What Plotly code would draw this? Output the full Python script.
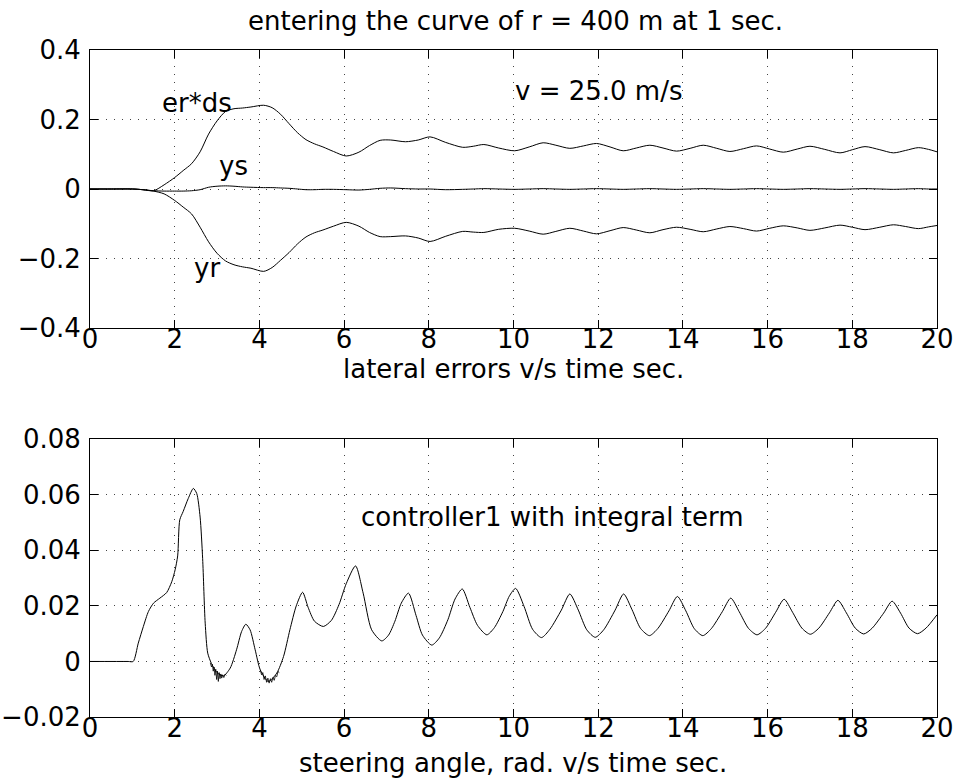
import plotly.graph_objects as go

# ---------------- data ----------------
t_top = [0, 0.5, 1.0, 1.25, 1.5, 1.75, 2.0, 2.2, 2.4, 2.6, 2.8, 3.0, 3.2, 3.4, 3.6, 3.8,
         4.1, 4.3, 4.5, 4.7, 4.9, 5.1, 5.3, 5.5, 5.75, 6.05, 6.35, 6.6, 6.85, 7.1, 7.45,
         7.75, 8.03, 8.4, 8.8, 9.05, 9.3, 9.65, 10.03, 10.37, 10.7, 11.0, 11.33, 11.65,
         11.96, 12.28, 12.59, 12.9, 13.22, 13.53, 13.85, 14.17, 14.48, 14.8, 15.11, 15.43,
         15.74, 16.05, 16.37, 16.7, 17.0, 17.35, 17.71, 18.0, 18.3, 18.65, 18.97, 19.26,
         19.56, 19.8, 20.0]

er_ds = [0, 0, 0, -0.002, -0.005, 0.012, 0.033, 0.053, 0.073, 0.107, 0.158, 0.196, 0.223,
         0.231, 0.233, 0.236, 0.241, 0.234, 0.215, 0.188, 0.162, 0.142, 0.130, 0.121, 0.108,
         0.095, 0.106, 0.125, 0.140, 0.141, 0.136, 0.141, 0.150, 0.134, 0.120, 0.123, 0.128,
         0.118, 0.110, 0.121, 0.133, 0.126, 0.117, 0.124, 0.131, 0.121, 0.110, 0.118, 0.126,
         0.118, 0.109, 0.117, 0.126, 0.117, 0.108, 0.116, 0.124, 0.115, 0.106, 0.115, 0.123,
         0.114, 0.104, 0.113, 0.122, 0.113, 0.104, 0.111, 0.119, 0.114, 0.107]

ys = [0, 0, 0, -0.002, -0.005, -0.006, -0.006, -0.006, -0.005, -0.002, 0.005, 0.008, 0.009,
      0.008, 0.006, 0.005, 0.004, 0.004, 0.003, 0.002, 0.000, -0.002, -0.002, -0.001, -0.001,
      -0.002, -0.003, -0.001, 0.002, 0.003, 0.001, 0.000, 0.000, -0.002, -0.001, 0.000, 0.001,
      0.000, -0.001, 0.000, 0.001, 0.000, -0.001, 0.000, 0.001, 0.000, -0.001, 0.000, 0.001,
      0.000, -0.001, 0.000, 0.001, 0.000, -0.001, 0.000, 0.001, 0.000, -0.001, 0.000, 0.001,
      0.000, -0.001, 0.000, 0.001, 0.000, -0.001, 0.000, 0.001, 0.000, 0.000]

yr = [0, 0, 0, -0.002, -0.006, -0.014, -0.033, -0.052, -0.072, -0.110, -0.152, -0.185,
      -0.207, -0.218, -0.224, -0.228, -0.237, -0.226, -0.205, -0.183, -0.158, -0.138, -0.126,
      -0.118, -0.107, -0.096, -0.107, -0.125, -0.137, -0.137, -0.135, -0.141, -0.151, -0.136,
      -0.122, -0.124, -0.125, -0.116, -0.113, -0.121, -0.130, -0.122, -0.113, -0.121, -0.129,
      -0.120, -0.111, -0.118, -0.126, -0.117, -0.110, -0.116, -0.123, -0.115, -0.108, -0.114,
      -0.121, -0.113, -0.106, -0.112, -0.119, -0.112, -0.104, -0.110, -0.117, -0.110, -0.103,
      -0.108, -0.114, -0.109, -0.105]

t_steer = [0, 0.9, 1.02, 1.14, 1.26, 1.38, 1.5, 1.65, 1.81, 1.93, 2.01, 2.07, 2.12, 2.2,
           2.32, 2.44, 2.52, 2.6, 2.66, 2.72, 2.78, 2.87, 3.0, 3.15, 3.31, 3.46, 3.58, 3.68,
           3.78, 3.9, 4.02, 4.21, 4.41, 4.57, 4.72, 4.87, 5.02, 5.15, 5.3, 5.51, 5.7, 5.88,
           6.05, 6.27, 6.45, 6.65, 6.89, 7.05, 7.2, 7.35, 7.52, 7.7, 7.85, 8.07, 8.25, 8.45,
           8.62, 8.79, 8.97, 9.15, 9.37, 9.55, 9.75, 9.9, 10.05,
           10.25, 10.45, 10.66, 10.86, 11.13, 11.33, 11.53, 11.73, 11.93, 12.13, 12.4, 12.6,
           12.8, 13.0, 13.21, 13.41, 13.67, 13.87, 14.07, 14.27, 14.47, 14.67, 14.93, 15.13,
           15.33, 15.55, 15.75, 15.95, 16.19, 16.39, 16.59, 16.81, 17.01, 17.21, 17.46, 17.66,
           17.86, 18.07, 18.27, 18.47, 18.74, 18.94, 19.14, 19.34, 19.54, 19.74, 20.0]

steer = [0, 0, 0, 0.0066, 0.0126, 0.018, 0.021, 0.0228, 0.0248, 0.0287, 0.033, 0.038,
         0.051, 0.054, 0.0587, 0.0623, 0.0605, 0.052, 0.037, 0.0138, 0.003, -0.0008, -0.004,
         -0.0052, -0.0024, 0.0042, 0.0108, 0.0134, 0.0114, 0.0042, -0.003, -0.0072, -0.0042,
         0.0018, 0.0114, 0.020, 0.0249, 0.0195, 0.0145, 0.0126, 0.0148, 0.0205,
         0.028, 0.0344, 0.0246, 0.0114, 0.0074, 0.0095, 0.0145, 0.021, 0.0246, 0.0165, 0.0095,
         0.0059, 0.0085, 0.015, 0.0225, 0.0261, 0.0195, 0.013, 0.0096, 0.0122, 0.018, 0.0235,
         0.0263,
         0.0198, 0.0116, 0.0086, 0.0116, 0.0185, 0.0243, 0.0185, 0.0114, 0.0087, 0.0114,
         0.0185, 0.0243, 0.0186, 0.0119, 0.0093, 0.0119, 0.0182, 0.0234, 0.0182, 0.0118,
         0.0093, 0.0118, 0.0179, 0.0228, 0.0179, 0.0119, 0.0096, 0.0119, 0.0177, 0.0224,
         0.0177, 0.012, 0.0098, 0.012, 0.0175, 0.022, 0.0175, 0.012, 0.0099, 0.012, 0.0174,
         0.0217, 0.0174, 0.012, 0.0100, 0.012, 0.0168]

# high-frequency jitter visible in the two early troughs
t_jit1 = [2.84, 2.87, 2.89, 2.91, 2.93, 2.95, 2.97, 2.99, 3.01, 3.03, 3.05, 3.07, 3.09,
          3.11, 3.13, 3.16, 3.19, 3.22]
jit1 = [-0.0005, -0.002, -0.001, -0.0035, -0.002, -0.005, -0.0028, -0.0065, -0.0035,
        -0.0072, -0.004, -0.0062, -0.0045, -0.006, -0.0048, -0.0058, -0.0046, -0.005]
t_jit2 = [4.02, 4.05, 4.08, 4.11, 4.14, 4.17, 4.2, 4.23, 4.26, 4.29, 4.32, 4.35, 4.38,
          4.41, 4.44, 4.47]
jit2 = [-0.003, -0.0048, -0.004, -0.0065, -0.0052, -0.0075, -0.006, -0.0078, -0.0062,
        -0.0075, -0.0058, -0.0068, -0.005, -0.0055, -0.0036, -0.004]

x_ticks = [0, 2, 4, 6, 8, 10, 12, 14, 16, 18, 20]
y1_ticks = [-0.4, -0.2, 0, 0.2, 0.4]
y1_text = ["\u22120.4", "\u22120.2", "0", "0.2", "0.4"]
y2_ticks = [-0.02, 0, 0.02, 0.04, 0.06, 0.08]
y2_text = ["\u22120.02", "0", "0.02", "0.04", "0.06", "0.08"]

# ---------------- figure ----------------
W, H = 961, 779
FONT = "DejaVu Sans"
FS = 26

fig = go.Figure()
fig.add_trace(go.Scatter(x=t_top, y=er_ds, mode="lines", line=dict(color="black", width=1, shape="spline", smoothing=0.8), xaxis="x", yaxis="y"))
fig.add_trace(go.Scatter(x=t_top, y=ys, mode="lines", line=dict(color="black", width=1, shape="spline", smoothing=0.8), xaxis="x", yaxis="y"))
fig.add_trace(go.Scatter(x=t_top, y=yr, mode="lines", line=dict(color="black", width=1, shape="spline", smoothing=0.8), xaxis="x", yaxis="y"))
fig.add_trace(go.Scatter(x=t_steer, y=steer, mode="lines", line=dict(color="black", width=1, shape="spline", smoothing=0.7), xaxis="x2", yaxis="y2"))
fig.add_trace(go.Scatter(x=t_jit1, y=jit1, mode="lines", line=dict(color="black", width=0.8), xaxis="x2", yaxis="y2"))
fig.add_trace(go.Scatter(x=t_jit2, y=jit2, mode="lines", line=dict(color="black", width=0.8), xaxis="x2", yaxis="y2"))

def px_x(p):
    return p / W

def px_y(p):
    return 1 - p / H

common = dict(showline=True, linecolor="black", linewidth=1, mirror="allticks",
              ticks="inside", ticklen=8, tickcolor="black", tickwidth=1,
              showgrid=True, gridcolor="#444", gridwidth=1, griddash="1px,7px",
              zeroline=False, automargin=False,
              tickfont=dict(family=FONT, size=FS, color="black"))

xdom = [px_x(90), px_x(937)]
fig.update_layout(
    width=W, height=H, margin=dict(l=0, r=0, t=0, b=0, autoexpand=False),
    paper_bgcolor="white", plot_bgcolor="white", showlegend=False,
    font=dict(family=FONT, size=FS, color="black"),
    xaxis=dict(domain=xdom, range=[0, 20], tickvals=x_ticks, anchor="y",
               ticklabelstandoff=-12, **common),
    yaxis=dict(domain=[px_y(328), px_y(50)], range=[-0.4, 0.4], tickvals=y1_ticks,
               ticktext=y1_text, anchor="x", ticklabelstandoff=3, **common),
    xaxis2=dict(domain=xdom, range=[0, 20], tickvals=x_ticks, anchor="y2",
                ticklabelstandoff=-12, **common),
    yaxis2=dict(domain=[px_y(717), px_y(439.3)], range=[-0.02, 0.08], tickvals=y2_ticks,
                ticktext=y2_text, anchor="x2", ticklabelstandoff=3, **common),
)

ann = []
ann.append(dict(text="entering the curve of r = 400 m at 1 sec.", xref="paper", yref="paper",
                x=px_x(515), y=px_y(21), xanchor="center", yanchor="middle", showarrow=False))
ann.append(dict(text="lateral errors v/s time sec.", xref="paper", yref="paper",
                x=px_x(513), y=px_y(369), xanchor="center", yanchor="middle", showarrow=False))
ann.append(dict(text="steering angle, rad. v/s time sec.", xref="paper", yref="paper",
                x=px_x(513), y=px_y(763), xanchor="center", yanchor="middle", showarrow=False))
ann.append(dict(text="er*ds", xref="x", yref="y", x=1.66, y=0.247, xanchor="left", yanchor="middle", showarrow=False))
ann.append(dict(text="ys", xref="x", yref="y", x=3.0, y=0.066, xanchor="left", yanchor="middle", showarrow=False))
ann.append(dict(text="yr", xref="x", yref="y", x=2.4, y=-0.228, xanchor="left", yanchor="middle", showarrow=False))
ann.append(dict(text="v = 25.0 m/s", xref="x", yref="y", x=9.98, y=0.281, xanchor="left", yanchor="middle", showarrow=False))
ann.append(dict(text="controller1 with integral term", xref="x2", yref="y2", x=6.35, y=0.052, xanchor="left", yanchor="middle", showarrow=False))
for a in ann:
    a["font"] = dict(family=FONT, size=FS, color="black")
fig.update_layout(annotations=ann)

fig.write_html("out.html")
